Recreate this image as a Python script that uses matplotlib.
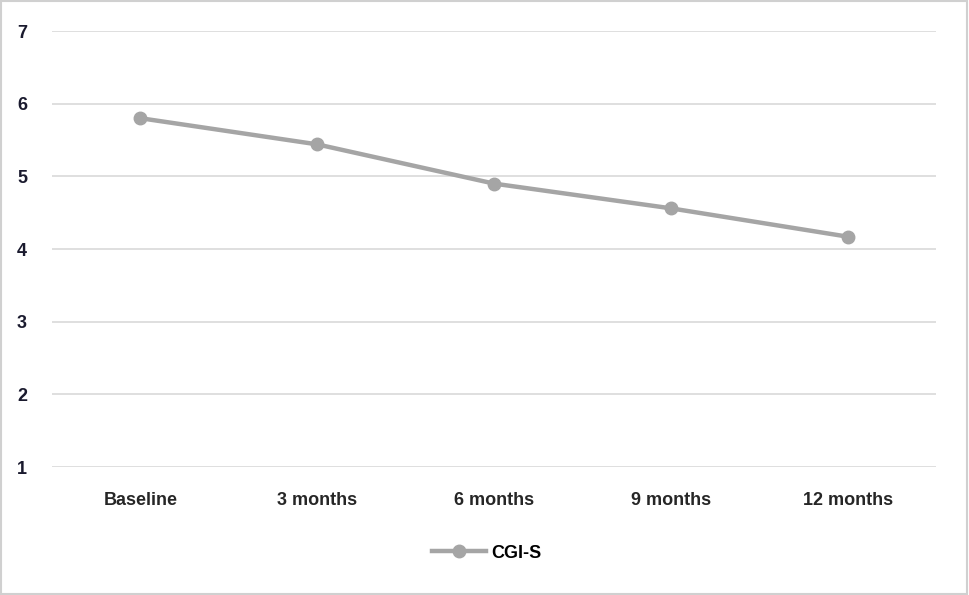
import matplotlib
matplotlib.use("Agg")
import matplotlib.pyplot as plt
from matplotlib.lines import Line2D

categories = ["Baseline", "3 months", "6 months", "9 months", "12 months"]
cgi_s = [5.8, 5.44, 4.9, 4.56, 4.17]
yticks = [1, 2, 3, 4, 5, 6, 7]

plt.rcParams['font.family'] = ['Liberation Sans Narrow', 'Liberation Sans', 'DejaVu Sans']

fig = plt.figure(figsize=(9.69, 5.95), dpi=100)
ax = fig.add_axes([52/969, 1-467/595, (936-52)/969, (467-31)/595])

x = list(range(len(categories)))
ax.plot(x, cgi_s, color="#A5A5A5", linewidth=3.2, marker="o", markersize=9,
        markerfacecolor="#A5A5A5", markeredgecolor="#A5A5A5", label="CGI-S", zorder=3)

ax.set_xlim(-0.5, len(categories)-0.5)
ax.set_ylim(1, 7)
ax.set_yticks(yticks)
ax.set_xticks(x)
ax.set_xticklabels(categories, fontsize=13, color="#262626", fontweight="bold")
ax.set_yticklabels([str(v) for v in yticks], fontsize=13, color="#1a1a2e", fontweight="bold")
ax.tick_params(axis='both', length=0)
ax.tick_params(axis='x', pad=18)
ax.tick_params(axis='y', pad=18)
ax.grid(axis='y', color="#D9D9D9", linewidth=1.2)
ax.set_axisbelow(True)
for s in ax.spines.values():
    s.set_visible(False)

handle = Line2D([0], [0], color="#A5A5A5", linewidth=3.2, marker="o", markersize=9,
                markerfacecolor="#A5A5A5", markeredgecolor="#A5A5A5")
fig.legend([handle], ["CGI-S"], loc="center", bbox_to_anchor=(487/969, 1-553/595),
           frameon=False, handlelength=3, handletextpad=0.3,
           prop={'weight': 'bold', 'size': 13})

# outer border
fig.patches.append(plt.Rectangle((0.001, 0.002), 0.997, 0.996, transform=fig.transFigure,
                                 fill=False, edgecolor="#D0D0D0", linewidth=1.5))

fig.savefig("out.png", dpi=100, facecolor="white")
